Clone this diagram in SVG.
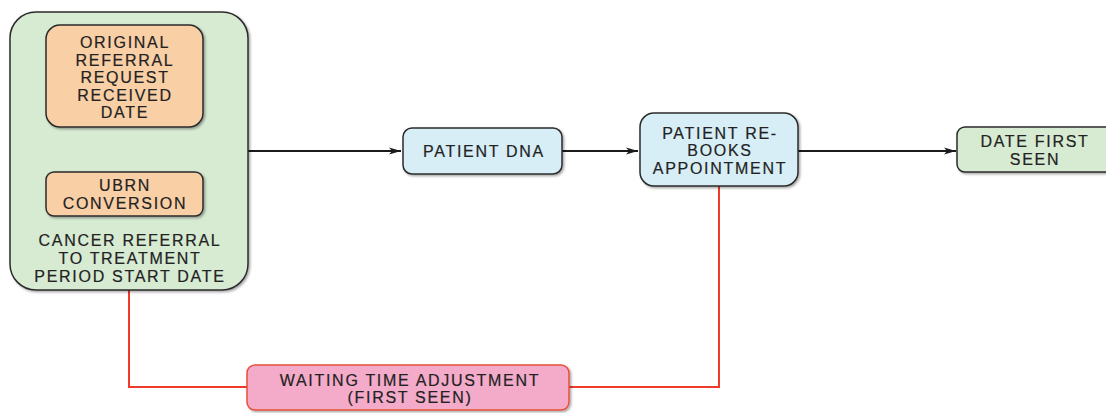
<svg xmlns="http://www.w3.org/2000/svg" width="1106" height="413" viewBox="0 0 1106 413">
<defs>
<marker id="arr" viewBox="0 0 12 8" refX="12" refY="4" markerWidth="13" markerHeight="8" markerUnits="userSpaceOnUse" orient="auto">
<path d="M0,0.5 L12,4 L0,7.5 L3,4 Z" fill="#1a1a1a"/>
</marker>
<filter id="sh" x="-10%" y="-10%" width="130%" height="130%">
<feDropShadow dx="1.5" dy="1.5" stdDeviation="1" flood-color="#000" flood-opacity="0.35"/>
</filter>
</defs>
<style>
text{font-family:"Liberation Sans",Arial,sans-serif;font-size:16px;fill:#222;stroke:#222;stroke-width:0.2;text-anchor:middle;letter-spacing:1.7px}
.box{stroke:#2b2b2b;stroke-width:1.5;filter:url(#sh)}
.green{fill:#d7ead2}
.orange{fill:#f9cfa6}
.blue{fill:#d8eef6}
.pink{fill:#f4abc9;stroke:#e8503a;stroke-width:1.5}
.conn{fill:none;stroke:#1a1a1a;stroke-width:2}
.red{fill:none;stroke:#f03a2a;stroke-width:2}
</style>
<g id="connectors">
<path class="conn" d="M248,151 H401" marker-end="url(#arr)"/>
<path class="conn" d="M562,151 H638" marker-end="url(#arr)"/>
<path class="conn" d="M798,151 H956" marker-end="url(#arr)"/>
<path class="red" d="M129,290 V387 H247"/>
<path class="red" d="M569,387 H719 V186"/>
</g>
<g id="start">
<rect class="box green" x="10" y="12" width="238" height="278" rx="26"/>
<text x="130" y="246">CANCER REFERRAL</text>
<text x="130" y="264">TO TREATMENT</text>
<text x="130" y="282">PERIOD START DATE</text>
</g>
<g id="original">
<rect class="box orange" x="46" y="25" width="157" height="102" rx="14"/>
<text x="125" y="48">ORIGINAL</text>
<text x="125" y="66">REFERRAL</text>
<text x="125" y="83">REQUEST</text>
<text x="125" y="101">RECEIVED</text>
<text x="125" y="118">DATE</text>
</g>
<g id="ubrn">
<rect class="box orange" x="46" y="172" width="157" height="44" rx="8"/>
<text x="125" y="191">UBRN</text>
<text x="125" y="209">CONVERSION</text>
</g>
<g id="dna">
<rect class="box blue" x="403" y="128" width="159" height="46" rx="9"/>
<text x="484" y="157">PATIENT DNA</text>
</g>
<g id="rebooks">
<rect class="box blue" x="640" y="113" width="158" height="73" rx="14"/>
<text x="720" y="139">PATIENT RE-</text>
<text x="720" y="156">BOOKS</text>
<text x="720" y="174">APPOINTMENT</text>
</g>
<g id="seen">
<rect class="box green" x="957" y="127" width="160" height="45" rx="8"/>
<text x="1035" y="147">DATE FIRST</text>
<text x="1035" y="165">SEEN</text>
</g>
<g id="adjust">
<rect class="pink" x="247" y="365" width="322" height="45" rx="8" filter="url(#sh)"/>
<text x="410" y="386">WAITING TIME ADJUSTMENT</text>
<text x="410" y="403">(FIRST SEEN)</text>
</g>
</svg>
